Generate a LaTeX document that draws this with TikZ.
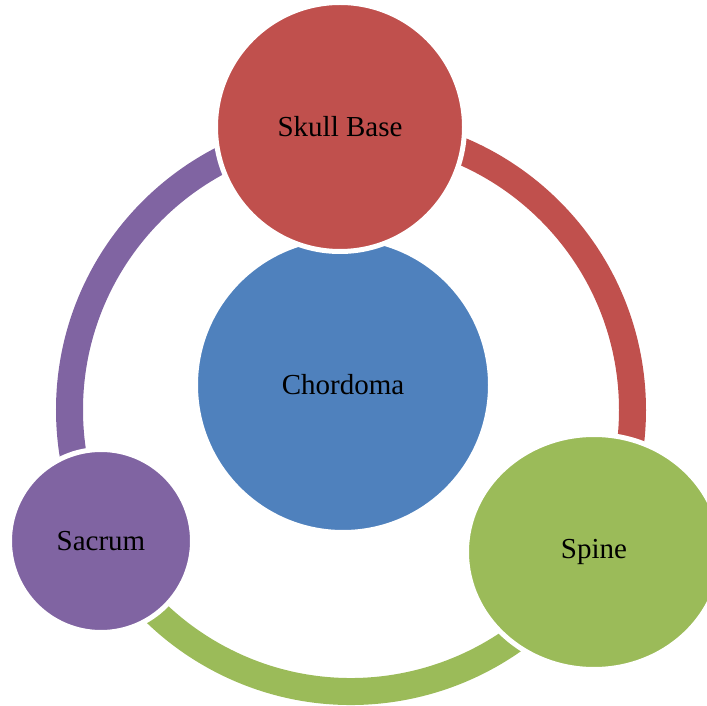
\documentclass[tikz,border=0pt]{standalone}
\usepackage{fontspec}
\setmainfont{Liberation Serif}
\usetikzlibrary{positioning,shapes.geometric}
\definecolor{skullred}{HTML}{C0504D}
\definecolor{chordblue}{HTML}{4F81BD}
\definecolor{spinegreen}{HTML}{9BBB59}
\definecolor{sacrumpurple}{HTML}{8064A2}
\tikzset{
  ring/.style={line width=27pt},
  site/.style={circle,draw=white,line width=5pt,inner sep=0pt,text=black,font=\fontsize{29}{34}\selectfont},
  every picture/.style={x=1pt,y=1pt}
}
\begin{document}
\begin{tikzpicture}
  \clip (0,0) rectangle (707,705);
  \coordinate (ringc) at (351,295);
  \draw[ring,skullred] (ringc) ++(92:281.5pt) arc[start angle=92,end angle=-30.3,radius=281.5pt];
  \draw[ring,spinegreen] (ringc) ++(-30.3:281.5pt) arc[start angle=-30.3,end angle=-152.4,radius=281.5pt];
  \draw[ring,sacrumpurple] (ringc) ++(92:281.5pt) arc[start angle=92,end angle=207.6,radius=281.5pt];
  \node[site,fill=chordblue,minimum size=295pt] (chord) at (343,320) {Chordoma};
  \node[site,fill=skullred,minimum size=249pt] (skull) at (340,578) {Skull Base};
  \node[site,ellipse,fill=spinegreen,minimum width=255pt,minimum height=235pt] (spine) at (594,153) {Spine};
  \node[site,fill=sacrumpurple,minimum size=183pt] (sacrum) at (101,164) {Sacrum};
\end{tikzpicture}
\end{document}
